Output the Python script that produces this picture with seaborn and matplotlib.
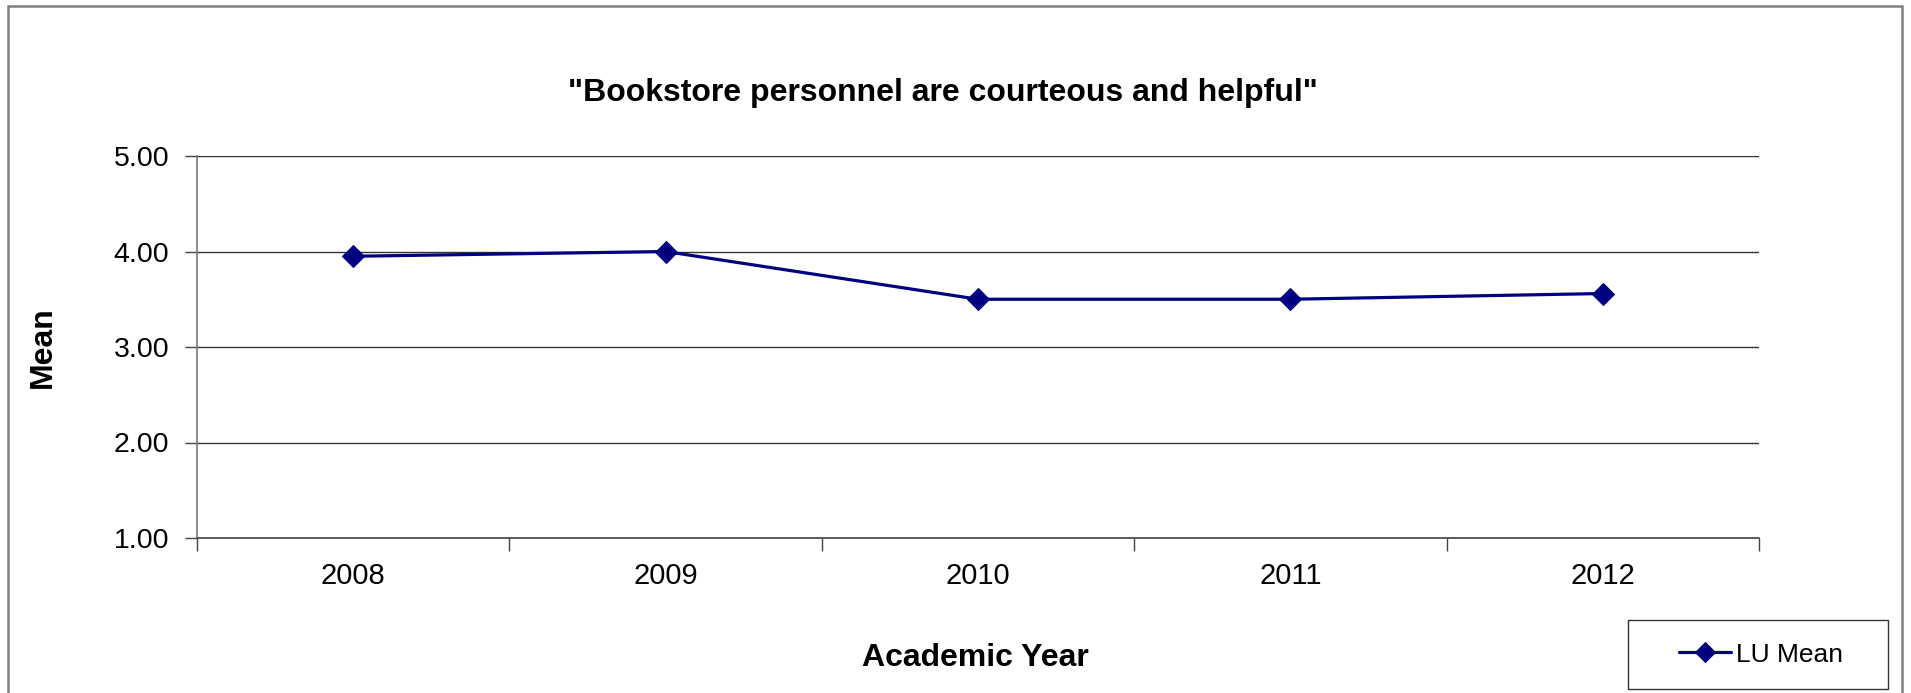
import matplotlib
matplotlib.use("Agg")
import matplotlib.pyplot as plt
from matplotlib.patches import Rectangle
from matplotlib.legend_handler import HandlerLine2D
import seaborn as sns
import pandas as pd
import numpy as np

years = ["2008", "2009", "2010", "2011", "2012"]
lu_mean = [3.95, 4.00, 3.50, 3.50, 3.56]
series_name = "LU Mean"
y_ticks = [1.00, 2.00, 3.00, 4.00, 5.00]

sns.set_style("white")
plt.rcParams["font.family"] = ["Liberation Sans", "DejaVu Sans"]
plt.rcParams["text.color"] = "black"
plt.rcParams["axes.labelcolor"] = "black"

df = pd.DataFrame({"idx": np.arange(len(years)), "value": lu_mean, "series": series_name})

fig = plt.figure(figsize=(19.11, 6.93), dpi=100)
ax = fig.add_axes([197/1911, 1-538/693, (1759-197)/1911, (538-156)/693])

sns.lineplot(data=df, x="idx", y="value", hue="series", palette=["#000080"],
             marker="D", markersize=11.5, linewidth=2.3, markeredgecolor="#000080",
             ax=ax, legend=True)

ax.set_xlim(-0.5, len(years) - 0.5)
ax.set_ylim(1, 5)
ax.set_yticks(y_ticks)
ax.set_yticklabels([f"{v:.2f}" for v in y_ticks], fontsize=20.5)
ax.yaxis.grid(True, color="#333333", linewidth=1.0)
ax.set_axisbelow(True)

ax.set_xticks(np.arange(-0.5, len(years), 1.0))
ax.set_xticklabels([])
ax.set_xticks(np.arange(len(years)), minor=True)
ax.set_xticklabels(years, minor=True, fontsize=21)
ax.tick_params(axis="x", which="major", direction="out", length=9, width=1, color="#444444", bottom=True)
ax.tick_params(axis="x", which="minor", length=0, pad=17, bottom=True, labelcolor="black")
ax.tick_params(axis="y", direction="out", length=9, width=1, color="#444444", left=True, pad=11,
               labelcolor="black")

for s in ["top", "right"]:
    ax.spines[s].set_visible(False)
ax.spines["left"].set_color("#777777")
ax.spines["left"].set_linewidth(1.2)
ax.spines["bottom"].set_color("#444444")
ax.spines["bottom"].set_linewidth(1.2)

ax.set_xlabel("")
ax.set_ylabel("")
fig.text(975/1911, 1-658/693, "Academic Year", fontsize=23, fontweight="bold", ha="center", va="center")
fig.text(43/1911, 1-347/693, "Mean", fontsize=23, fontweight="bold", ha="center", va="center", rotation=90)
fig.text(943/1911, 1-93/693, "\"Bookstore personnel are courteous and helpful\"", fontsize=23,
         fontweight="bold", ha="center", va="center")

handles, labels = ax.get_legend_handles_labels()
ax.get_legend().remove()
labels = [lab + "\u00a0\u00a0\u00a0" for lab in labels]
leg = fig.legend(handles, labels, loc="lower right", bbox_to_anchor=(1888/1911, 4/693),
                 borderaxespad=0, fontsize=19, frameon=True, fancybox=False,
                 handlelength=3.05, handletextpad=0.2, borderpad=0.85,
                 handler_map={handles[0]: HandlerLine2D(xpad=1.08)})
leg.get_frame().set_edgecolor("#000000")
leg.get_frame().set_linewidth(1.0)
for ln in leg.get_lines():
    ln.set_markersize(10)

border = Rectangle((8/1911, -0.05), (1902-8)/1911, 1.05 - 6/693, transform=fig.transFigure,
                   fill=False, edgecolor="#808080", linewidth=1.8, zorder=0)
fig.patches.append(border)

fig.savefig("out.png", dpi=100)
